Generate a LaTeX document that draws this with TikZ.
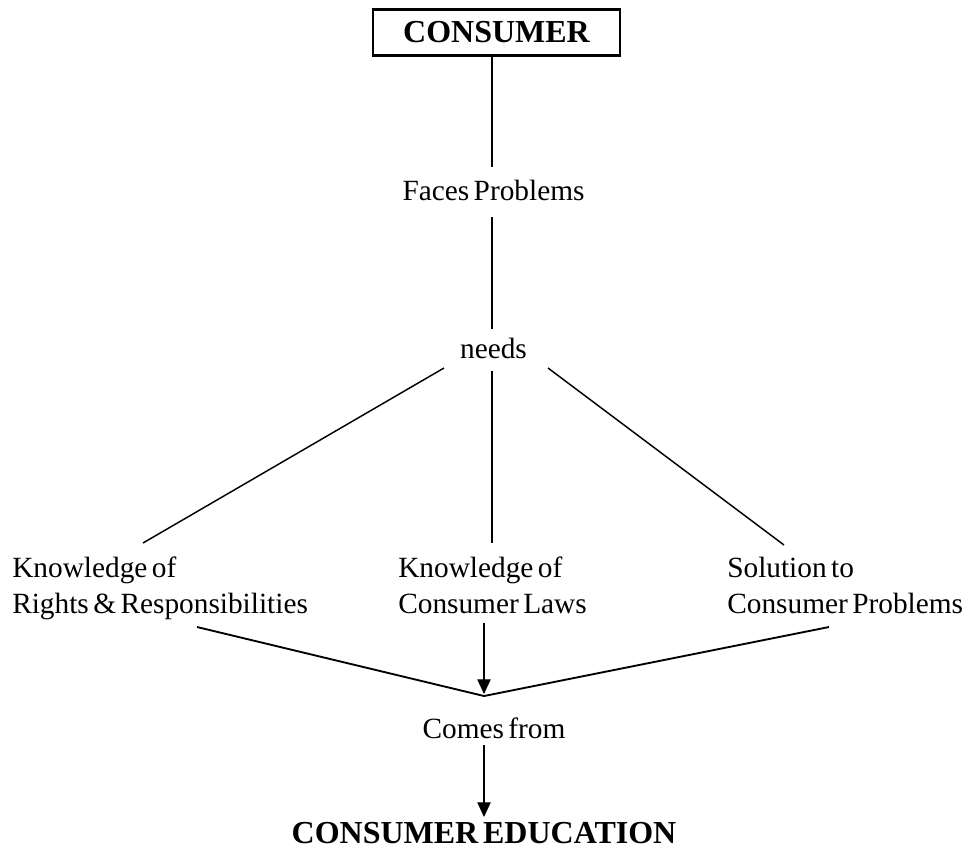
\documentclass[tikz,border=0pt]{standalone}
\usepackage{fontspec}
\setmainfont[WordSpace=0.6]{Liberation Serif}
\usetikzlibrary{arrows.meta,calc}
\begin{document}
\begin{tikzpicture}[x=0.75pt,y=-0.75pt,
  txt/.style={font=\fontsize{22}{27}\selectfont, inner sep=0pt},
  bld/.style={font=\fontsize{24}{28}\selectfont\bfseries, inner sep=0pt},
  ln/.style={line width=1.1pt},
  thk/.style={line width=1.4pt},
  arr/.style={line width=0.9pt,-{Triangle[length=11pt,width=10pt]}}]
\useasboundingbox (0,0) rectangle (974,850);
% nodes
\node[bld, draw, line width=1.7pt, minimum width=185pt, minimum height=34.5pt] (consumer) at (496.5,32.5) {CONSUMER};
\node[txt, anchor=base] (faces) at (493.5,200) {Faces Problems};
\node[txt, anchor=base] (needs) at (493.5,358) {needs};
\node[txt, anchor=base west, align=left] (k1) at (12,613) {Knowledge of\\Rights \& Responsibilities};
\node[txt, anchor=base west, align=left] (k2) at (398,613) {Knowledge of\\Consumer Laws};
\node[txt, anchor=base west, align=left] (k3) at (727,613) {Solution to\\Consumer Problems};
\node[txt, anchor=base] (comes) at (494,738) {Comes from};
\node[bld, anchor=base] (edu) at (484,843) {CONSUMER EDUCATION};
% connector end points
\coordinate (facesTop) at (492,167);
\coordinate (facesBot) at (492,217);
\coordinate (needsTop) at (492,329);
\coordinate (needsL) at (444,368);
\coordinate (needsM) at (492,371);
\coordinate (needsR) at (548,368);
\coordinate (k1top) at (143,543);
\coordinate (k2top) at (492,543);
\coordinate (k3top) at (784,545);
\coordinate (k1bot) at (197,627);
\coordinate (k2bot) at (484,623);
\coordinate (k3bot) at (829,627);
\coordinate (conv) at (484,696);
\coordinate (convTip) at (484,694);
\coordinate (comesBot) at (484,745);
\coordinate (eduTop) at (484,817);
% connectors
\draw[ln] (consumer.south -| facesTop) -- (facesTop);
\draw[ln] (facesBot) -- (needsTop);
\draw[ln] (needsL) -- (k1top);
\draw[ln] (needsM) -- (k2top);
\draw[ln] (needsR) -- (k3top);
\draw[thk] (k1bot) -- (conv) -- (k3bot);
\draw[arr] (k2bot) -- (convTip);
\draw[arr] (comesBot) -- (eduTop);
\end{tikzpicture}
\end{document}
